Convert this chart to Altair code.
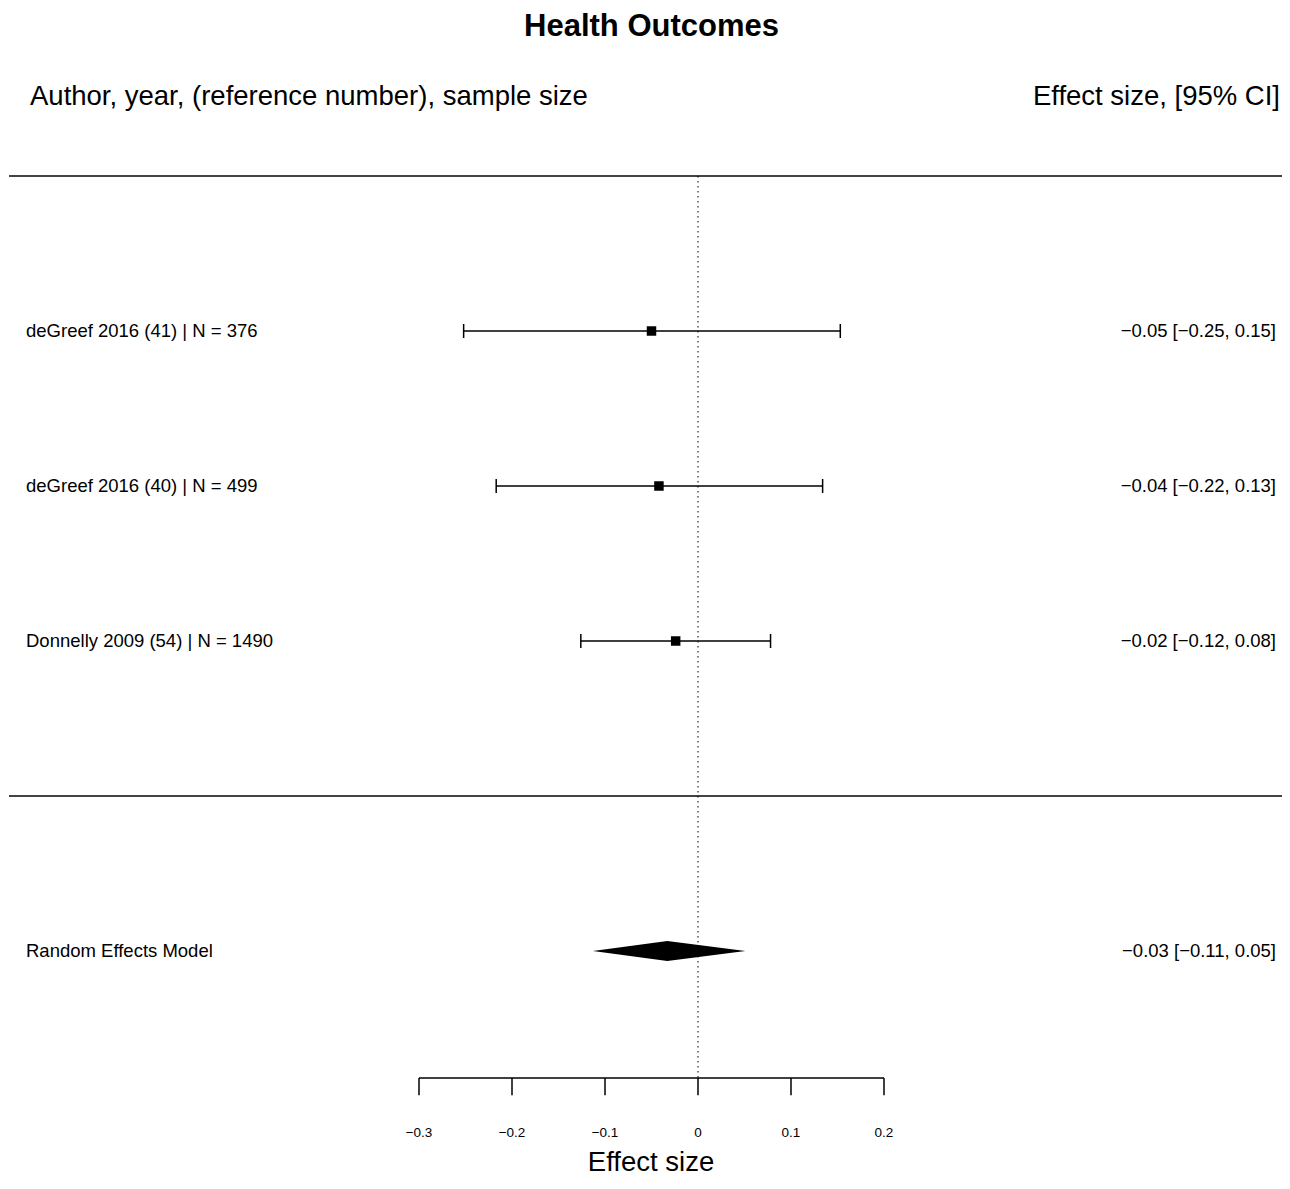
import altair as alt
import pandas as pd

# ---- data ----
studies = ["deGreef 2016 (41) | N = 376", "deGreef 2016 (40) | N = 499", "Donnelly 2009 (54) | N = 1490"]
est = [-0.050, -0.042, -0.024]
ci_lo = [-0.252, -0.217, -0.126]
ci_hi = [0.153, 0.134, 0.078]
est_text = ["\u22120.05 [\u22120.25, 0.15]", "\u22120.04 [\u22120.22, 0.13]", "\u22120.02 [\u22120.12, 0.08]"]
re_label = "Random Effects Model"
re_est = -0.033
re_lo = -0.113
re_hi = 0.051
re_text = "\u22120.03 [\u22120.11, 0.05]"
tick_values = [-0.3, -0.2, -0.1, 0.0, 0.1, 0.2]
tick_labels = ["\u22120.3", "\u22120.2", "\u22120.1", "0", "0.1", "0.2"]

# ---- layout ----
W, H = 1274, 1173
FONT = "Liberation Sans"
rows = [3, 2, 1]          # study rows (metafor style)
re_row = -1
top_row = 4
mid_row = 0
axis_row = -1.82
tick_len = 0.11
diamond_half = 0.065

xs = alt.Scale(domain=[-0.74194, 0.62796], nice=False, zero=False)
ys = alt.Scale(domain=[-2.4839, 5.0839], nice=False, zero=False)
X = lambda f: alt.X(f, type="quantitative", scale=xs, axis=None)
Y = lambda f: alt.Y(f, type="quantitative", scale=ys, axis=None)

df = pd.DataFrame({"study": studies, "est": est, "lo": ci_lo, "hi": ci_hi,
                   "txt": est_text, "row": rows})
df["cap_top"] = df["row"] + 0.045
df["cap_bot"] = df["row"] - 0.045

base = alt.Chart(df)
ci = base.mark_rule(color="black", strokeWidth=1.5).encode(x=X("lo"), x2="hi", y=Y("row"))
cap_l = base.mark_rule(color="black", strokeWidth=1.5).encode(x=X("lo"), y=Y("cap_bot"), y2="cap_top")
cap_r = base.mark_rule(color="black", strokeWidth=1.5).encode(x=X("hi"), y=Y("cap_bot"), y2="cap_top")
pts = base.mark_square(color="black", size=90, opacity=1).encode(x=X("est"), y=Y("row"))
lab = base.mark_text(align="left", baseline="middle", font=FONT, fontSize=18.5, color="black").encode(
    x=alt.value(18), y=Y("row"), text="study")
rlab = base.mark_text(align="right", baseline="middle", font=FONT, fontSize=18.5, color="black").encode(
    x=alt.value(1268), y=Y("row"), text="txt")

# summary diamond
dia = pd.DataFrame({"x": [re_lo, re_est, re_hi],
                    "y": [re_row, re_row + diamond_half, re_row],
                    "y2": [re_row, re_row - diamond_half, re_row]})
diamond = alt.Chart(dia).mark_area(color="black", opacity=1).encode(x=X("x"), y=Y("y"), y2="y2")
re_df = pd.DataFrame({"lab": [re_label], "txt": [re_text], "row": [re_row]})
re_lab = alt.Chart(re_df).mark_text(align="left", baseline="middle", font=FONT, fontSize=18.5).encode(
    x=alt.value(18), y=Y("row"), text="lab")
re_rlab = alt.Chart(re_df).mark_text(align="right", baseline="middle", font=FONT, fontSize=18.5).encode(
    x=alt.value(1268), y=Y("row"), text="txt")

# separators
sep = pd.DataFrame({"row": [top_row, mid_row]})
seps = alt.Chart(sep).mark_rule(color="#444444", strokeWidth=2).encode(
    x=alt.value(1), x2=alt.value(W), y=Y("row"))

# zero reference line
zl = pd.DataFrame({"x": [0.0], "y": [top_row], "y2": [axis_row]})
zero_line = alt.Chart(zl).mark_rule(color="black", strokeWidth=1, strokeDash=[1.5, 3.5]).encode(
    x=X("x"), y=Y("y"), y2="y2")

# axis
ax = pd.DataFrame({"v": tick_values, "lab": tick_labels})
ax["y"] = axis_row
ax["y2"] = axis_row - tick_len
ax["ly"] = axis_row - 0.355
axis_line = alt.Chart(pd.DataFrame({"a": [min(tick_values)], "b": [max(tick_values)], "y": [axis_row]})).mark_rule(
    color="black", strokeWidth=1.5).encode(x=X("a"), x2="b", y=Y("y"))
ticks = alt.Chart(ax).mark_rule(color="black", strokeWidth=1.5).encode(x=X("v"), y=Y("y"), y2="y2")
tlabs = alt.Chart(ax).mark_text(baseline="middle", font=FONT, fontSize=13.5).encode(
    x=X("v"), y=Y("ly"), text="lab")
axtitle = alt.Chart(pd.DataFrame({"t": ["Effect size"]})).mark_text(
    baseline="alphabetic", font=FONT, fontSize=27.5).encode(x=alt.value(643), y=alt.value(1163), text="t")

# headers and title
title = alt.Chart(pd.DataFrame({"t": ["Health Outcomes"]})).mark_text(
    baseline="middle", font=FONT, fontSize=31, fontWeight="bold").encode(
    x=alt.value(643.5), y=alt.value(19), text="t")
hl = alt.Chart(pd.DataFrame({"t": ["Author, year, (reference number), sample size"]})).mark_text(
    align="left", baseline="middle", font=FONT, fontSize=27.5).encode(x=alt.value(22), y=alt.value(89), text="t")
hr = alt.Chart(pd.DataFrame({"t": ["Effect size, [95% CI]"]})).mark_text(
    align="right", baseline="middle", font=FONT, fontSize=27.5).encode(x=alt.value(1272), y=alt.value(89), text="t")

chart = alt.layer(
    seps, zero_line, ci, cap_l, cap_r, pts, lab, rlab,
    diamond, re_lab, re_rlab, axis_line, ticks, tlabs, axtitle, title, hl, hr
).properties(width=W, height=H, padding=0, autosize=alt.AutoSizeParams(type="none")
).configure(background="white", view=alt.ViewConfig(stroke=None))

chart.save("out.html", embed_options={"renderer": "svg", "actions": False})
